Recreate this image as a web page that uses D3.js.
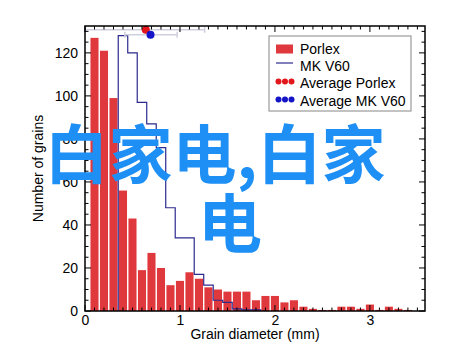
<!DOCTYPE html>
<html><head><meta charset="utf-8">
<script src="https://cdn.jsdelivr.net/npm/d3@7"></script>
<style>body{margin:0;background:#fff}svg{display:block}</style>
</head><body><svg id="c" width="460" height="354"></svg>
<script>
// ---- data ----
const porlexCenters = [0.1,0.2,0.3,0.4,0.5,0.6,0.7,0.8,0.9,1.0,1.1,1.2,1.3,1.4,1.5,1.6,1.7,1.8,1.9,2.0,2.1,2.2,2.3,2.4,2.5,2.6,2.7,2.8,2.9,3.0,3.1,3.2,3.3,3.4];
const porlexCounts  = [127,121,99,56,43,19,27,20,12,14,18,15,11,10,9,9,9,5,7,7,4,5,2,1,0.5,0.5,2,2,1,3,0.5,2,1,0.5];
const mkEdges  = [0.35,0.45,0.55,0.65,0.75,0.85,0.95,1.05,1.15,1.25,1.35,1.45,1.55,1.65,1.75,1.85];
const mkCounts = [128,120,97,87,76,48,34,34,17,12,5,4,1,0.5,0.5];
const avgNames  = ["Average Porlex","Average MK V60"];
const avgMeans  = [0.64,0.69];
const avgLow    = [0.0,0.42];
const avgHigh   = [1.26,0.97];
const avgLevel  = [130.7,128.4];
const xTicks = [0,1,2,3];
const yTicks = [0,20,40,60,80,100,120];

// ---- layout ----
const svg = d3.select("#c");
const L=85,R=425,T=26,B=311;
const x = d3.scaleLinear().domain([0,3.58]).range([L,R]);
const y = d3.scaleLinear().domain([0,132.5]).range([B,T]);
const font = "'Liberation Sans', Arial, Helvetica, sans-serif";
const red = "#e0393d", navy = "#2d2a8f";
const fs = 14;

// bars
const bw = 0.085;
svg.append("g").selectAll("rect").data(porlexCenters).join("rect")
  .attr("x", (d)=>x(d-bw/2)).attr("width", (d)=>x(d+bw/2)-x(d-bw/2))
  .attr("y", (d,i)=>y(porlexCounts[i])).attr("height", (d,i)=>B-y(porlexCounts[i]))
  .attr("fill", red);

// MK V60 step line
const pts = [[mkEdges[0],0]];
mkCounts.forEach((c,i)=>{ pts.push([mkEdges[i],c]); pts.push([mkEdges[i+1],c]); });
pts.push([mkEdges[mkEdges.length-1],0]);
svg.append("path").datum(pts)
  .attr("d", d3.line().x(d=>x(d[0])).y(d=>y(d[1])))
  .attr("fill","none").attr("stroke",navy).attr("stroke-width",1.2);

// average markers with error bars
const avgCols = ["#e3161b","#1414c8"];
avgNames.forEach((n,i)=>{
  const g = svg.append("g");
  const yy = y(avgLevel[i]);
  g.append("line").attr("x1",x(avgLow[i])).attr("x2",x(avgHigh[i])).attr("y1",yy).attr("y2",yy)
    .attr("stroke","#cfcfe0").attr("stroke-width",1.5);
  [avgLow[i],avgHigh[i]].forEach(v=>g.append("line").attr("x1",x(v)).attr("x2",x(v)).attr("y1",yy-3).attr("y2",yy+3)
    .attr("stroke","#cfcfe0").attr("stroke-width",1.5));
  g.append("circle").attr("cx",x(avgMeans[i])).attr("cy",yy).attr("r",4).attr("fill",avgCols[i]);
});

// axes (ticks inward, mirrored)
const ax = svg.append("g").attr("stroke","#000").attr("stroke-width",1);
ax.append("rect").attr("x",L).attr("y",T).attr("width",R-L).attr("height",B-T).attr("fill","none").attr("stroke-width",1.5);
d3.range(0,131,5).forEach(v=>{
  const major = v%20===0, len = major?6:3.5;
  ax.append("line").attr("x1",L).attr("x2",L+len).attr("y1",y(v)).attr("y2",y(v));
  ax.append("line").attr("x1",R).attr("x2",R-len).attr("y1",y(v)).attr("y2",y(v));
});
d3.range(0,3.55,0.1).forEach(v=>{
  const major = Math.abs(v-Math.round(v))<1e-6, len = major?6:3.5;
  ax.append("line").attr("x1",x(v)).attr("x2",x(v)).attr("y1",B).attr("y2",B-len);
  ax.append("line").attr("x1",x(v)).attr("x2",x(v)).attr("y1",T).attr("y2",T+len);
});

const yAxis = d3.axisLeft(y).tickValues(yTicks).tickFormat(d3.format("d")).tickSize(0).tickPadding(7);
const gy = svg.append("g").attr("transform",`translate(${L},0)`).call(yAxis);
gy.select(".domain").remove();
gy.selectAll("text").attr("font-family",font).attr("font-size",fs).attr("fill","#000");
const xAxis = d3.axisBottom(x).tickValues(xTicks).tickFormat(d3.format("d")).tickSize(0).tickPadding(4);
const gx = svg.append("g").attr("transform",`translate(0,${B})`).call(xAxis);
gx.select(".domain").remove();
gx.selectAll("text").attr("font-family",font).attr("font-size",fs).attr("fill","#000");

svg.append("text").attr("x",(L+R)/2).attr("y",339).attr("text-anchor","middle")
  .attr("font-family",font).attr("font-size",fs).text("Grain diameter (mm)");
svg.append("text").attr("transform",`translate(43,${(T+B)/2}) rotate(-90)`).attr("text-anchor","middle")
  .attr("font-family",font).attr("font-size",fs).text("Number of grains");

// legend
const lg = svg.append("g").attr("font-family",font).attr("font-size",fs);
lg.append("rect").attr("x",269).attr("y",36).attr("width",142).attr("height",75)
  .attr("fill","#fff").attr("stroke","#9a9a9a").attr("stroke-width",1.2);
const legNames = ["Porlex","MK V60"].concat(avgNames);
const rowY = [49,66,83,101];
lg.append("rect").attr("x",276).attr("y",rowY[0]-4.5).attr("width",17).attr("height",9).attr("fill",red);
lg.append("line").attr("x1",276).attr("x2",293).attr("y1",rowY[1]-3).attr("y2",rowY[1]-3).attr("stroke",navy).attr("stroke-width",1.2);
[2,3].forEach(k=>{
  [278.5,285,291.5].forEach(cx=>lg.append("circle").attr("cx",cx).attr("cy",rowY[k]-1.5).attr("r",3).attr("fill",avgCols[k-2]));
});
legNames.forEach((n,i)=>lg.append("text").attr("x",300).attr("y",rowY[i]+5).text(n));

// overlaid watermark text
const wm = svg.append("g").attr("font-family","'Noto Sans CJK SC', sans-serif").attr("font-weight","bold")
  .attr("font-size",64).attr("fill","#1e8ff5").attr("text-anchor","middle");
wm.append("text").attr("x",215).attr("y",178).text("白家电,白家");
wm.append("text").attr("x",230).attr("y",247).text("电");
</script></body></html>
